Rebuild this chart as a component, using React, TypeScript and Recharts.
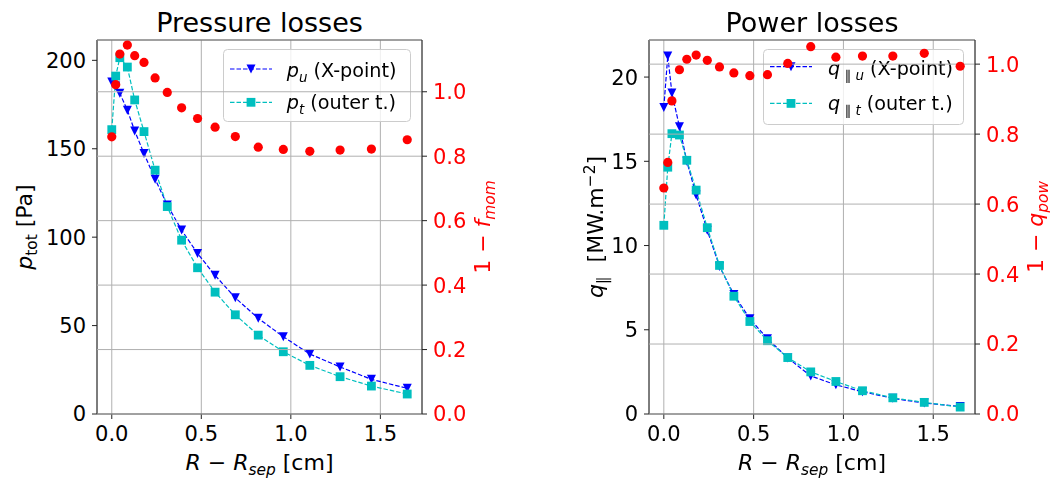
import React from "react";
import { ComposedChart, Line, XAxis, YAxis, CartesianGrid, Legend } from "recharts";

// R - Rsep positions [cm], shared by both panels
const xPos = [0, 0.022, 0.045, 0.087, 0.128, 0.18, 0.242, 0.31, 0.39, 0.479, 0.577, 0.69, 0.818, 0.958, 1.106, 1.275, 1.45, 1.65];

// pressure panel
const pUpstream = [187.7, 185.5, 181.4, 171.8, 160.1, 147.3, 132.8, 118.2, 104, 90.8, 78.4, 65.7, 54.1, 43.7, 33.9, 26.6, 19.6, 14.5];
const pTarget = [160.8, 191.1, 201.5, 196.2, 177.6, 159.7, 137.9, 117.3, 98.3, 82.7, 68.9, 56.1, 44.6, 35.2, 27.5, 21.1, 15.8, 11.3];
const momLoss = [0.86, 1.022, 1.117, 1.145, 1.112, 1.091, 1.043, 0.998, 0.95, 0.917, 0.89, 0.861, 0.828, 0.821, 0.815, 0.819, 0.822, 0.851];

// power panel
const qUpstream = [18.2, 21.25, 19.05, 17.05, 15.0, 13.0, 10.9, 8.76, 7.09, 5.65, 4.47, 3.33, 2.26, 1.73, 1.32, 0.93, 0.65, 0.45];
const qTarget = [11.2, 14.65, 16.64, 16.56, 15.06, 13.29, 11.06, 8.82, 6.99, 5.49, 4.35, 3.35, 2.5, 1.93, 1.38, 0.96, 0.69, 0.41];
const powLoss = [0.646, 0.719, 0.895, 0.984, 1.014, 1.026, 1.011, 0.992, 0.975, 0.967, 0.97, 1.002, 1.05, 1.02, 1.023, 1.023, 1.031, 0.994];

const xTicks = [0, 0.5, 1, 1.5];
const pressureTicks = [0, 50, 100, 150, 200];
const powerTicks = [0, 5, 10, 15, 20];
const lossTicks = [0, 0.2, 0.4, 0.6, 0.8, 1.0];

const xDomain: [number, number] = [-0.0825, 1.7325];

const pressureRows = xPos.map((x, i) => ({ x, up: pUpstream[i], tgt: pTarget[i], loss: momLoss[i] }));
const powerRows = xPos.map((x, i) => ({ x, up: qUpstream[i], tgt: qTarget[i], loss: powLoss[i] }));

const BLUE = "#0000ff";
const CYAN = "#00bfbf";
const RED = "#ff0000";
const SPINE = "#222222";
const GRID = "#b0b0b0";

type Part = { t: string; it?: boolean; sub?: boolean; sup?: boolean };

function MathText({
  x,
  y,
  parts,
  size,
  fill = "#000",
  anchor = "middle",
  rotate = false,
}: {
  x: number;
  y: number;
  parts: Part[];
  size: number;
  fill?: string;
  anchor?: "start" | "middle" | "end";
  rotate?: boolean;
}) {
  let shift = 0;
  const spans = parts.map((p, i) => {
    const target = p.sub ? size * 0.24 : p.sup ? -size * 0.38 : 0;
    const dy = target - shift;
    shift = target;
    return (
      <tspan key={i} dy={dy} fontStyle={p.it ? "italic" : "normal"} fontSize={p.sub || p.sup ? size * 0.7 : size}>
        {p.t}
      </tspan>
    );
  });
  return (
    <text
      x={x}
      y={y}
      fontSize={size}
      fill={fill}
      textAnchor={anchor}
      style={{ whiteSpace: "pre" }}
      transform={rotate ? `rotate(-90 ${x} ${y})` : undefined}
    >
      {spans}
    </text>
  );
}

const TriDown = (props: any) => {
  const { cx, cy, index } = props;
  if (cx == null || cy == null) return <g key={`t${index}`} />;
  const s = 4.5;
  return <path key={`t${index}`} d={`M${cx - s},${cy - s}L${cx + s},${cy - s}L${cx},${cy + s}Z`} fill={BLUE} />;
};

const Square = (props: any) => {
  const { cx, cy, index } = props;
  if (cx == null || cy == null) return <g key={`s${index}`} />;
  const s = 4.4;
  return <rect key={`s${index}`} x={cx - s} y={cy - s} width={2 * s} height={2 * s} fill={CYAN} />;
};

type LegendRow = { parts: Part[]; color: string; marker: "tri" | "sq"; y: number; base: number };

function LegendBox({ w, h, textX, rows }: { w: number; h: number; textX: number; rows: LegendRow[] }) {
  return (
    <svg width={w} height={h} style={{ display: "block", overflow: "visible", willChange: "transform" }}>
      <rect x={0.5} y={0.5} width={w - 1} height={h - 1} rx={4} fill="#ffffff" fillOpacity={0.8} stroke="#cccccc" />
      {rows.map((r, i) => (
        <g key={i}>
          <line x1={7} x2={49} y1={r.y} y2={r.y} stroke={r.color} strokeWidth={1.2} strokeDasharray="4.5 2" />
          {r.marker === "tri" ? <TriDown cx={28} cy={r.y} index={i} /> : <Square cx={28} cy={r.y} index={i} />}
          <MathText x={textX} y={r.base} parts={r.parts} size={19.2} anchor="start" />
        </g>
      ))}
    </svg>
  );
}

const pressureLegend: LegendRow[] = [
  { parts: [{ t: "p", it: true }, { t: "u", it: true, sub: true }, { t: " (X-point)" }], color: BLUE, marker: "tri", y: 20, base: 28.3 },
  { parts: [{ t: "p", it: true }, { t: "t", it: true, sub: true }, { t: " (outer t.)" }], color: CYAN, marker: "sq", y: 53.3, base: 60 },
];
const powerLegend: LegendRow[] = [
  { parts: [{ t: "q", it: true }, { t: " \u2225 ", sub: true }, { t: "u", it: true, sub: true }, { t: " (X-point)" }], color: BLUE, marker: "tri", y: 17.7, base: 26 },
  { parts: [{ t: "q", it: true }, { t: " \u2225 ", sub: true }, { t: "t", it: true, sub: true }, { t: " (outer t.)" }], color: CYAN, marker: "sq", y: 54.4, base: 61 },
];

const xLabel: Part[] = [{ t: "R", it: true }, { t: " \u2212 " }, { t: "R", it: true }, { t: "sep", it: true, sub: true }, { t: " [cm]" }];

type PanelProps = {
  left: number;
  width: number;
  leftW: number;
  rightW: number;
  rows: { x: number; up: number; tgt: number; loss: number }[];
  yDomain: [number, number];
  yTicks: number[];
  lossDomain: [number, number];
  title: string;
  yLabel: Part[];
  yLabelX: number;
  lossLabel: Part[];
  legend: LegendRow[];
  legendBox: { left: number; top: number; width: number; height: number; textX: number };
};

function Panel(p: PanelProps) {
  const top = 40;
  const bottomH = 64;
  const plotL = p.leftW;
  const plotR = p.width - p.rightW;
  const plotCx = (plotL + plotR) / 2;
  const plotCy = (top + (478 - bottomH)) / 2;
  return (
    <div style={{ position: "absolute", left: p.left, top: 0, width: p.width, height: 478 }}>
      <div style={{ position: "absolute", left: 0, top: 0 }}>
        <ComposedChart width={p.width} height={478} data={p.rows} margin={{ top: top - 1, right: p.rightW, bottom: 0, left: 0 }}>
          <CartesianGrid horizontal={false} stroke={GRID} strokeWidth={1} />
          <XAxis
            dataKey="x"
            type="number"
            domain={xDomain}
            allowDataOverflow
            ticks={xTicks}
            interval={0}
            tickFormatter={(v: number) => v.toFixed(1)}
            height={bottomH}
            fontSize={21}
            tick={{ fontSize: 21, fill: "#000" }}
            tickSize={5}
            tickMargin={7.5}
            stroke={SPINE}
            label={() => <MathText x={plotCx} y={470} parts={xLabel} size={22} />}
          />
          <XAxis
            xAxisId="top"
            orientation="top"
            dataKey="x"
            type="number"
            domain={xDomain}
            allowDataOverflow
            height={1}
            tick={false}
            tickLine={false}
            stroke={SPINE}
            label={() => <MathText x={plotCx} y={31.7} parts={[{ t: p.title }]} size={27} />}
          />
          <YAxis
            type="number"
            domain={p.yDomain}
            allowDataOverflow
            ticks={p.yTicks}
            interval={0}
            width={p.leftW}
            fontSize={21}
            tick={{ fontSize: 21, fill: "#000" }}
            tickSize={5}
            tickMargin={6}
            stroke={SPINE}
            label={() => <MathText x={p.yLabelX} y={plotCy} parts={p.yLabel} size={22} rotate />}
          />
          <Line
            dataKey="up"
            stroke={BLUE}
            strokeWidth={1.2}
            strokeDasharray="4.5 2"
            dot={TriDown}
            activeDot={false}
            isAnimationActive={false}
          />
          <Line
            dataKey="tgt"
            stroke={CYAN}
            strokeWidth={1.2}
            strokeDasharray="4.5 2"
            dot={Square}
            activeDot={false}
            isAnimationActive={false}
          />
          <Legend
            layout="vertical"
            align="center"
            verticalAlign="middle"
            wrapperStyle={{ left: p.legendBox.left, top: p.legendBox.top, width: p.legendBox.width, height: p.legendBox.height }}
            content={() => (
              <LegendBox w={p.legendBox.width} h={p.legendBox.height} textX={p.legendBox.textX} rows={p.legend} />
            )}
          />
        </ComposedChart>
      </div>
      <div style={{ position: "absolute", left: 0, top: 0 }}>
        <ComposedChart width={p.width} height={478} data={p.rows} margin={{ top, right: 0, bottom: bottomH, left: p.leftW }}>
          <CartesianGrid vertical={false} stroke={GRID} strokeWidth={1} />
          <XAxis dataKey="x" type="number" domain={xDomain} allowDataOverflow hide />
          <YAxis
            orientation="right"
            type="number"
            domain={p.lossDomain}
            allowDataOverflow
            ticks={lossTicks}
            interval={0}
            width={p.rightW}
            tickFormatter={(v: number) => v.toFixed(1)}
            fontSize={21}
            tick={{ fontSize: 21, fill: RED }}
            tickSize={5}
            tickMargin={6}
            stroke={SPINE}
            label={() => <MathText x={plotR + 68} y={plotCy} parts={p.lossLabel} size={22} fill={RED} rotate />}
          />
          <Line
            dataKey="loss"
            stroke="none"
            dot={{ r: 4.6, fill: RED, stroke: "none" }}
            activeDot={false}
            isAnimationActive={false}
          />
        </ComposedChart>
      </div>
    </div>
  );
}

export default function App() {
  return (
    <div
      style={{
        position: "absolute",
        left: 0,
        top: 0,
        width: 1050,
        height: 478,
        background: "#ffffff",
        fontFamily: "'DejaVu Sans', sans-serif",
        overflow: "hidden",
      }}
    >
      <Panel
        left={0}
        width={530}
        leftW={97}
        rightW={108}
        rows={pressureRows}
        yDomain={[0, 211.5]}
        yTicks={pressureTicks}
        lossDomain={[0, 1.1606]}
        title="Pressure losses"
        yLabel={[{ t: "p", it: true }, { t: "tot", sub: true }, { t: " [Pa]" }]}
        yLabelX={31.7}
        lossLabel={[{ t: "1 \u2212 " }, { t: "f", it: true }, { t: "mom", it: true, sub: true }]}
        legend={pressureLegend}
        legendBox={{ left: 223, top: 49, width: 188, height: 73, textX: 63.7 }}
      />
      <Panel
        left={530}
        width={520}
        leftW={119}
        rightW={75}
        rows={powerRows}
        yDomain={[0, 22.2]}
        yTicks={powerTicks}
        lossDomain={[0, 1.069]}
        title="Power losses"
        yLabel={[{ t: "q", it: true }, { t: "\u2225", sub: true }, { t: "  [MW.m" }, { t: "\u22122", sup: true }, { t: "]" }]}
        yLabelX={73}
        lossLabel={[{ t: "1 \u2212 " }, { t: "q", it: true }, { t: "pow", it: true, sub: true }]}
        legend={powerLegend}
        legendBox={{ left: 233, top: 49, width: 201, height: 76, textX: 65 }}
      />
    </div>
  );
}
